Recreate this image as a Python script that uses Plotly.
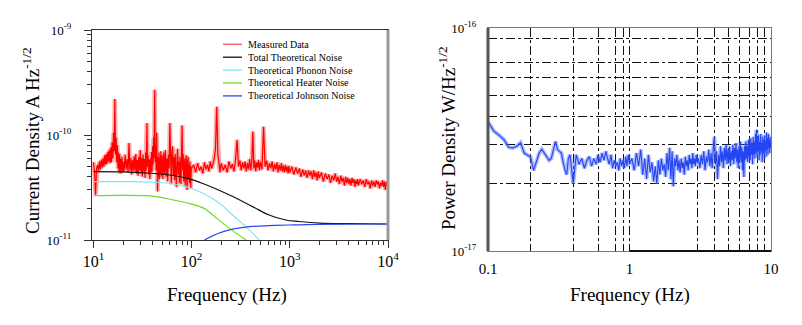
import numpy as np
import plotly.graph_objects as go

# the page body adds an 8px margin, so the figure is drawn 8px in from the window corner
OFF = 8
W, H = 802 - OFF, 325 - OFF
SERIF = "Liberation Serif, Times New Roman, serif"

# ---------------- left panel: current noise ----------------
# frequency bins of the measured spectrum (Hz)
meas_f = (list(np.arange(10, 20, 0.25)) + list(np.arange(20, 50, 0.5)) + list(range(50, 100))
          + list(range(100, 200, 5)) + list(range(200, 500, 10)) + list(range(500, 1000, 20))
          + list(range(1000, 2000, 50)) + list(range(2000, 5000, 100)) + list(range(5000, 10001, 200)))
# measured current density, units of 1e-11 A/Hz^1/2
meas_y = [
    # 10 - 20 Hz
    5.5, 4.4, 2.7, 4.8, 5.2, 4.5, 5.6, 4.7, 5.8, 4.9, 6.0, 5.0, 6.4, 5.2, 6.6, 5.3, 6.9, 5.6, 7.2, 5.4,
    7.6, 5.5, 8.5, 6.0, 10.5, 7.0, 22, 6.5, 9.5, 5.5, 8.0, 4.8, 6.8, 4.5, 6.5, 4.3, 5.9, 4.6, 6.2, 4.4,
    # 20 - 50 Hz
    5.6, 4.5, 6.5, 4.7, 5.9, 4.4, 8.4, 4.6, 6.0, 4.2, 5.8, 4.6, 6.3, 4.5, 6.6, 4.3, 5.8, 4.1, 6.2, 4.6,
    7.2, 4.4, 6.0, 4.0, 6.5, 4.5, 5.9, 3.9, 6.8, 4.6, 13, 5.0, 6.4, 4.2, 5.8, 3.8, 6.0, 4.4, 6.9, 4.5,
    7.8, 5.2, 9.5, 6.0, 27, 5.5, 8.0, 4.6, 10.5, 5.0, 2.9, 6.2, 4.0, 6.8, 3.8, 6.0, 4.3, 7.0, 4.0, 5.8,
    # 50 - 100 Hz
    6.4, 3.8, 6.8, 4.2, 7.2, 4.0, 6.0, 3.6, 6.5, 4.8, 13, 4.5, 3.4, 6.8, 7.8, 4.1, 6.2, 3.7, 6.6, 4.3,
    3.2, 6.0, 7.4, 4.2, 5.6, 3.5, 6.2, 4.4, 3.4, 7.0, 12.4, 4.6, 6.6, 3.6, 6.0, 4.2, 3.3, 5.8, 6.4, 3.9,
    3.0, 5.6, 6.2, 3.8, 5.2, 3.5, 5.6, 4.0, 3.1, 5.0,
    # 100 - 1000 Hz
    4.8, 5.2, 4.4, 5.4, 4.6, 5.0, 4.3, 5.5, 4.7, 5.2, 4.5, 5.6, 4.8, 5.3, 6.0, 7.5, 18.6, 6.5, 5.0, 4.4,
    5.4, 4.6, 5.2, 4.4, 5.6, 4.8, 5.3, 4.5, 5.8, 9.0, 5.0, 5.7, 4.6, 5.5, 4.8, 5.6, 4.5, 5.4, 4.7, 5.9,
    4.6, 5.6, 10.8, 4.8, 5.7, 4.5, 5.5, 4.9, 5.8, 4.6,
    5.5, 4.7, 12, 5.0, 5.7, 4.6, 5.4, 4.8, 5.6, 4.5, 5.3, 4.7, 5.5, 4.4, 5.2, 4.6, 5.4, 4.5, 5.1, 4.4,
    5.2, 4.5, 5.0, 4.3, 5.1,
    # 1 - 10 kHz
    4.4, 5.0, 4.2, 4.9, 4.3, 4.8, 4.0, 4.7, 4.1, 4.6, 3.9, 4.6, 4.1, 4.5, 3.8, 4.6, 4.0, 4.4, 3.7, 4.5,
    3.9, 4.4, 3.6, 4.3, 3.8, 4.2, 3.5, 4.1, 3.7, 4.3, 3.6, 4.0, 3.4, 4.1, 3.6, 3.9, 3.3, 4.0, 3.5, 3.9,
    3.4, 3.8, 3.3, 3.9, 3.5, 3.8, 3.2, 3.7, 3.4, 3.8,
    3.3, 3.8, 3.4, 3.7, 3.2, 3.8, 3.4, 3.6, 3.1, 3.7, 3.3, 3.6, 3.2, 3.7, 3.4, 3.6, 3.1, 3.5, 3.3, 3.7,
    3.2, 3.6, 3.0, 3.6, 3.3, 3.5,
]

total_f = [10, 20, 42, 60, 91, 130, 243, 418, 614, 908, 1240, 2000, 4000, 10000]
total_y = [4.48, 4.45, 4.3, 4.16, 3.86, 3.45, 2.68, 2.08, 1.73, 1.55, 1.5, 1.45, 1.43, 1.42]

phonon_f = [10, 20, 42, 60, 91, 130, 192, 284, 358, 488]
phonon_y = [3.6, 3.6, 3.55, 3.45, 3.18, 2.79, 2.24, 1.61, 1.34, 1.0]

heater_f = [10, 19, 42, 66, 91, 134, 164, 243, 358]
heater_y = [2.64, 2.66, 2.6, 2.4, 2.25, 2.0, 1.73, 1.29, 1.0]

johnson_f = [135, 180, 243, 388, 614, 1000, 2000, 10000]
johnson_y = [1.0, 1.14, 1.25, 1.34, 1.37, 1.39, 1.41, 1.42]

AMP = 1e-11

# ---------------- right panel: power noise ----------------
pow_f = (list(np.round(np.arange(0.10, 0.405, 0.01), 2)) + list(np.round(np.arange(0.42, 1.005, 0.02), 2))
         + list(np.round(np.arange(1.04, 3.005, 0.04), 2)) + list(np.round(np.arange(3.07, 10.005, 0.07), 2)))
# power density, units of 1e-17 W/Hz^1/2
pow_y = [
    3.8, 3.45, 3.3, 3.15, 2.92, 2.9, 2.95, 3.06, 2.75, 2.7, 2.64, 2.3, 2.55, 2.75, 2.86, 2.75, 2.65, 2.55,
    2.6, 2.85, 3.1, 2.85, 2.8, 2.75, 2.5, 2.3, 2.2, 2.6, 2.7, 2.3, 2.0,
    2.7, 2.45, 2.6, 2.35, 2.55, 2.65, 2.4, 2.6, 2.45, 2.7, 2.5, 2.75, 2.55, 2.8, 2.6, 2.45, 2.7, 2.35,
    2.55, 2.4, 2.5, 2.3, 2.6, 2.4, 2.55, 2.35, 2.65, 2.4, 2.7, 2.45,
    2.6, 2.3, 2.75, 2.4, 2.85, 2.2, 2.6, 2.1, 2.7, 2.25, 2.5, 2.05, 2.4, 2.0, 2.55, 2.2, 2.6, 2.3,
    2.45, 2.15, 2.75, 2.3, 2.9, 2.1, 2.8, 1.95, 2.6, 2.4, 2.7, 2.3, 2.55, 2.25, 2.6, 2.35, 2.5, 2.2,
    2.65, 2.4, 2.55, 2.3, 2.7, 2.45, 2.6, 2.35, 2.75, 2.45, 2.6, 2.4, 2.7, 2.5,
    2.6, 2.35, 2.7, 2.45, 2.8, 2.3, 2.65, 2.5, 2.85, 2.4, 2.75, 2.35, 2.9, 3.25, 2.45, 2.8, 2.1, 2.7,
    2.4, 2.95, 2.5, 2.8, 2.35, 2.9, 2.55, 3.0, 2.45, 2.85, 2.5, 2.95, 2.4, 2.8, 2.55, 3.0, 2.45, 2.9,
    2.6, 3.05, 2.5, 2.85, 2.35, 2.95, 2.6, 3.1, 2.5, 2.9, 2.3, 2.8, 2.15, 2.95, 2.55, 3.1, 2.6, 2.95,
    2.5, 3.15, 2.65, 3.0, 2.55, 3.2, 2.7, 3.05, 2.45, 3.25, 2.7, 3.1, 2.6, 3.35, 2.75, 3.5, 2.65, 3.2,
    2.8, 3.3, 2.55, 3.1, 2.7, 3.35, 2.8, 3.05, 2.5, 3.25, 2.75, 3.15, 2.6, 3.3, 2.8, 3.1, 2.65, 3.4,
    2.85, 3.2, 2.7, 3.35, 2.9, 3.15, 2.75, 3.25, 2.9, 3.05,
]
PWR = 1e-17

left_ticks = [1e-11, 1e-10, 1e-9]
left_ticktext = ["10<sup>-11</sup>", "10<sup>-10</sup>", "10<sup>-9</sup>"]
freq_ticks = [10, 100, 1000, 10000]
freq_ticktext = ["10<sup>1</sup>", "10<sup>2</sup>", "10<sup>3</sup>", "10<sup>4</sup>"]
right_xticks = [0.1, 1, 10]
right_xticktext = ["0.1", "1", "10"]
right_yticks = [1e-17, 1e-16]
right_yticktext = ["10<sup>-17</sup>", "10<sup>-16</sup>"]
grid_f = [0.2, 0.4, 0.6, 0.8, 0.9, 1, 3, 4, 5, 6, 7, 8, 9]
grid_p = [2e-17, 3e-17, 4e-17, 5e-17, 6e-17, 7e-17, 9e-17]

legend_items = [("Measured Data", "#f25a5a"), ("Total Theoretical Noise", "#111111"),
                ("Theoretical Phonon Noise", "#7fe3ff"), ("Theoretical Heater Noise", "#6fdc1f"),
                ("Theoretical Johnson Noise", "#2a48f0")]


def px(x):
    # window pixel -> paper fraction
    return (x - OFF) / W


def py(y):
    return 1 - (y - OFF) / H


fig = go.Figure()

meas_vals = [v * AMP for v in meas_y]
# soft halo under the measured trace, then the trace itself
fig.add_trace(go.Scatter(x=meas_f, y=meas_vals, mode="lines", hoverinfo="skip",
                         line=dict(color="rgba(255,70,70,0.45)", width=4.5), xaxis="x", yaxis="y"))
fig.add_trace(go.Scatter(x=meas_f, y=meas_vals, mode="lines", name="Measured Data",
                         line=dict(color="#ff0000", width=1.2), xaxis="x", yaxis="y"))
fig.add_trace(go.Scatter(x=total_f, y=[v * AMP for v in total_y], mode="lines", name="Total Theoretical Noise",
                         line=dict(color="#111111", width=1.2, shape="spline"), xaxis="x", yaxis="y"))
fig.add_trace(go.Scatter(x=phonon_f, y=[v * AMP for v in phonon_y], mode="lines", name="Theoretical Phonon Noise",
                         line=dict(color="#7fe3ff", width=1.2, shape="spline"), xaxis="x", yaxis="y"))
fig.add_trace(go.Scatter(x=heater_f, y=[v * AMP for v in heater_y], mode="lines", name="Theoretical Heater Noise",
                         line=dict(color="#6fdc1f", width=1.2, shape="spline"), xaxis="x", yaxis="y"))
fig.add_trace(go.Scatter(x=johnson_f, y=[v * AMP for v in johnson_y], mode="lines", name="Theoretical Johnson Noise",
                         line=dict(color="#2a48f0", width=1.2, shape="spline"), xaxis="x", yaxis="y"))

pow_vals = [v * PWR for v in pow_y]
fig.add_trace(go.Scatter(x=pow_f, y=pow_vals, mode="lines", hoverinfo="skip",
                         line=dict(color="rgba(90,120,245,0.5)", width=4), xaxis="x2", yaxis="y2"))
fig.add_trace(go.Scatter(x=pow_f, y=pow_vals, mode="lines", name="Power Density",
                         line=dict(color="#2445f2", width=1.1), xaxis="x2", yaxis="y2"))

minor_left_y = [m * 10.0 ** e for e in (-11, -10) for m in range(2, 10)]
minor_left_x = [m * 10.0 ** e for e in (1, 2, 3) for m in range(2, 10)]

tickfont_small = dict(family=SERIF, size=13, color="black")
fig.update_layout(
    template="none",
    width=W, height=H, margin=dict(l=0, r=0, t=0, b=0, pad=0),
    paper_bgcolor="white", plot_bgcolor="white", showlegend=False,
    font=dict(family=SERIF, color="black"),
    xaxis=dict(type="log", domain=[px(92), px(388)], range=[0.985, 4.0], anchor="y", automargin=False,
               tickvals=freq_ticks, ticktext=freq_ticktext, tickfont=dict(family=SERIF, size=16),
               ticks="outside", ticklen=7, tickcolor="#333", showgrid=False, zeroline=False,
               showline=True, linecolor="#333", linewidth=1, mirror=True,
               minor=dict(tickvals=minor_left_x, ticks="outside", ticklen=4, tickcolor="#333", showgrid=False)),
    yaxis=dict(type="log", domain=[py(240), py(30)], range=[-11, -9], anchor="x", automargin=False,
               tickvals=left_ticks, ticktext=left_ticktext, tickfont=tickfont_small,
               ticks="outside", ticklen=7, tickcolor="#333", showgrid=False, zeroline=False,
               showline=True, linecolor="#333", linewidth=1, mirror=True, ticklabelstandoff=10,
               minor=dict(tickvals=minor_left_y, ticks="outside", ticklen=4, tickcolor="#333", showgrid=False)),
    xaxis2=dict(type="log", domain=[px(488), px(771)], range=[-1, 1], anchor="y2", automargin=False,
                tickvals=right_xticks, ticktext=right_xticktext, tickfont=dict(family=SERIF, size=15),
                ticks="", showgrid=False, zeroline=False, ticklabelstandoff=4,
                showline=True, linecolor="#777", linewidth=1, mirror=True,
                minor=dict(tickvals=grid_f, ticks="", showgrid=True, gridcolor="#111",
                           griddash="dashdot", gridwidth=1)),
    yaxis2=dict(type="log", domain=[py(251), py(28)], range=[-17, -16], anchor="x2", automargin=False,
                tickvals=right_yticks, ticktext=right_yticktext, tickfont=tickfont_small,
                ticks="", showgrid=False, zeroline=False, ticklabelstandoff=8,
                showline=True, linecolor="#777", linewidth=1, mirror=True,
                minor=dict(tickvals=grid_p, ticks="", showgrid=True, gridcolor="#111",
                           griddash="dashdot", gridwidth=1)),
)

# frame details
fig.add_shape(type="line", xref="x domain", yref="y domain", x0=1, x1=1, y0=0, y1=1,
              line=dict(color="#999", width=3))
fig.add_shape(type="line", xref="x2 domain", yref="y2 domain", x0=0, x1=0, y0=0, y1=1,
              line=dict(color="#555", width=3))
fig.add_shape(type="line", xref="x2", yref="y2 domain", x0=1, x1=10, y0=0, y1=0,
              line=dict(color="#111", width=2))

# manual legend
for i, (name, color) in enumerate(legend_items):
    yy = 44.3 + i * 12.9
    fig.add_shape(type="line", xref="paper", yref="paper", x0=px(223), x1=px(242), y0=py(yy), y1=py(yy),
                  line=dict(color=color, width=1.3))
    fig.add_annotation(x=px(246), y=py(yy), xref="paper", yref="paper", text=name, showarrow=False,
                       xanchor="left", yanchor="middle", font=dict(family=SERIF, size=10, color="black"))

# axis titles
title_font = dict(family=SERIF, size=19, color="black")
titles = [(227, 295, "Frequency (Hz)", 0), (630, 295, "Frequency (Hz)", 0),
          (31, 141, "Current Density A Hz<sup>-1/2</sup>", -90),
          (447, 138, "Power Density W/Hz<sup>-1/2</sup>", -90)]
for tx, ty, text, angle in titles:
    fig.add_annotation(x=px(tx), y=py(ty), xref="paper", yref="paper", text=text, showarrow=False,
                       textangle=angle, xanchor="center", yanchor="middle", font=title_font)

fig.write_html("out.html")
